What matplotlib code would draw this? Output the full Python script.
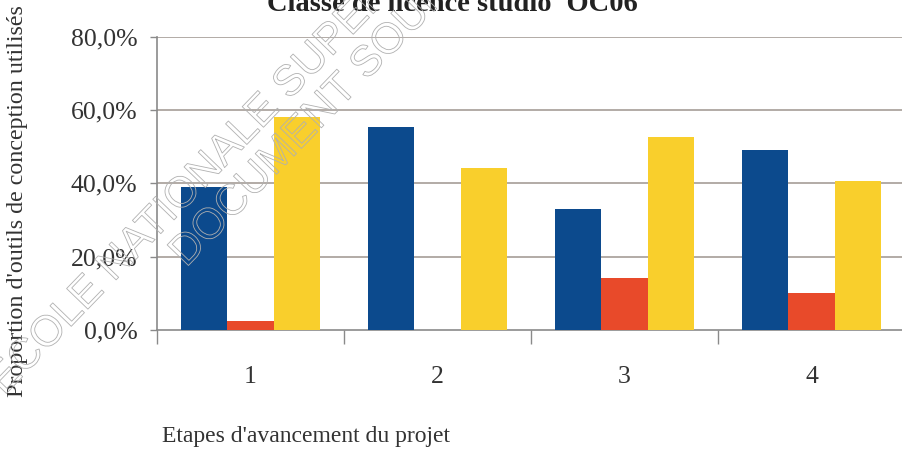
import matplotlib
matplotlib.use("Agg")
import matplotlib.pyplot as plt
import matplotlib.patheffects as pe
import numpy as np

# Proportion of design tools used at each project stage
etapes = ["1", "2", "3", "4"]
serie_bleue = [39.1, 55.4, 32.9, 49.1]
serie_rouge = [2.5, 0.0, 14.1, 10.0]
serie_jaune = [58.2, 44.3, 52.7, 40.6]
graduations = [0, 20, 40, 60, 80]

titre = "Classe de licence studio 'OC06'"
label_y = "Proportion d'outils de conception utilisés"
label_x = "Etapes d'avancement du projet"

couleurs = ["#0c4a8d", "#e84a2a", "#f9cf2c"]
W, H = 903, 449

plt.rcParams["font.family"] = ["Liberation Serif", "DejaVu Serif"]

fig = plt.figure(figsize=(W / 100, H / 100), dpi=100)
fig.patch.set_facecolor("white")

ax = fig.add_axes([157 / W, 1 - 330 / H, 748 / W, (330 - 36.7) / H])

x = np.arange(1, len(etapes) + 1)
w = 0.246
for k, (vals, c) in enumerate(zip([serie_bleue, serie_rouge, serie_jaune], couleurs)):
    ax.bar(x + (k - 1) * w, np.array(vals) / 100, width=w, color=c, zorder=3)

ax.set_xlim(0.5, len(etapes) + 0.5)
ax.set_ylim(0, 0.8)

# y axis in French percent format
ax.set_yticks([g / 100 for g in graduations])
ax.set_yticklabels([f"{g:.1f}%".replace(".", ",") for g in graduations])
ax.tick_params(axis="y", direction="out", length=5, width=1, color="#8a8a8a",
               pad=9, labelsize=18.5, labelcolor="#333333")

# category boundaries as ticks, labels in the middle
ax.set_xticks(np.arange(0.5, len(etapes) + 0.6, 1.0))
ax.set_xticklabels([])
ax.set_xticks(x, minor=True)
ax.set_xticklabels(etapes, minor=True)
ax.tick_params(axis="x", which="major", direction="out", length=10, width=1,
               color="#8a8a8a")
ax.tick_params(axis="x", which="minor", length=0, pad=26, labelsize=18.5,
               labelcolor="#333333")

for g in graduations[1:]:
    ax.axhline(g / 100, color="#a59d97", lw=1.2, zorder=1)

for s in ["top", "right"]:
    ax.spines[s].set_visible(False)
ax.spines["left"].set_color("#8a8a8a")
ax.spines["bottom"].set_color("#8a8a8a")
ax.spines["left"].set_linewidth(1.2)
ax.spines["bottom"].set_linewidth(1.2)

fig.text(456 / W, 1 - 11 / H, titre, ha="center", va="baseline",
         fontsize=20.5, fontweight="bold", color="#222222")
fig.text(18 / W, 1 - 201 / H, label_y, rotation=90, ha="center", va="center",
         fontsize=17.3, color="#333333")
fig.text(162 / W, 1 - 442 / H, label_x, ha="left", va="baseline",
         fontsize=17, color="#333333")

# outlined watermark across the chart
contour = [pe.withStroke(linewidth=0.6, foreground="#b0b0b0")]
for txt, px, py in [("ECOLE NATIONALE SUPERIEURE", 4, 396),
                    ("DOCUMENT SOURCE", 186, 268)]:
    fig.text(px / W, 1 - py / H, txt, rotation=46, rotation_mode="anchor",
             ha="left", va="baseline", fontsize=31, family="Liberation Sans",
             color=(1, 1, 1, 0), path_effects=contour, zorder=10)

fig.savefig("out.png", dpi=100, facecolor="white")
